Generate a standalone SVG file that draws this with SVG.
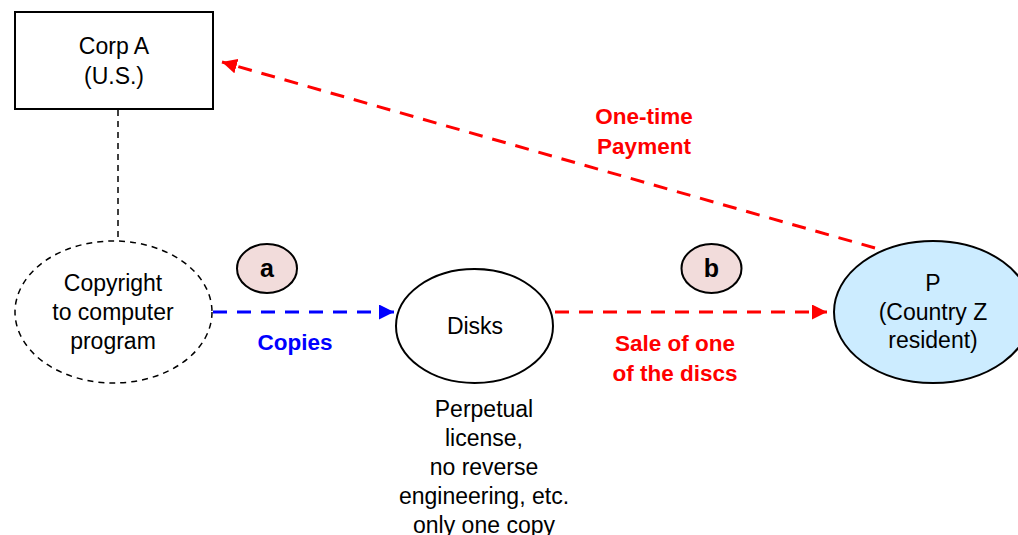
<svg xmlns="http://www.w3.org/2000/svg" width="1018" height="535" viewBox="0 0 1018 535">
<defs>
<style>
text{font-family:"Liberation Sans",Arial,sans-serif;font-size:23px;fill:#000;text-anchor:middle}
.lbl{font-weight:bold;font-size:22.5px}
.red{fill:#FF0000}
.blue{fill:#0000FF}
.badge{fill:#F2DCDB;stroke:#000;stroke-width:2}
.badgetxt{font-weight:bold;font-size:25px}
.node{stroke:#000;stroke-width:2}
.thindash{fill:none;stroke:#000;stroke-width:1.5;stroke-dasharray:6 5}
.redline{fill:none;stroke:#FF0000;stroke-width:3;stroke-dasharray:14 10}
.blueline{fill:none;stroke:#0000FF;stroke-width:3;stroke-dasharray:14 10}
</style>
<marker id="ahRed" viewBox="0 0 10 10" refX="10" refY="5" markerWidth="5" markerHeight="5" markerUnits="strokeWidth" orient="auto">
<path d="M0,0 L10,5 L0,10 z" fill="#FF0000"/>
</marker>
<marker id="ahBlue" viewBox="0 0 10 10" refX="10" refY="5" markerWidth="5" markerHeight="5" markerUnits="strokeWidth" orient="auto">
<path d="M0,0 L10,5 L0,10 z" fill="#0000FF"/>
</marker>
</defs>
<rect width="1018" height="535" fill="#fff"/>
<g id="connectors">
<line class="thindash" x1="118" y1="110" x2="118" y2="241"/>
<line class="blueline" x1="213" y1="312" x2="394" y2="312" marker-end="url(#ahBlue)"/>
<line class="redline" x1="555" y1="312" x2="827" y2="312" marker-end="url(#ahRed)"/>
<line class="redline" x1="875" y1="248" x2="222" y2="62" marker-end="url(#ahRed)"/>
</g>
<g id="corpA">
<rect class="node" x="15" y="12" width="198" height="97" fill="#fff"/>
<text x="114" y="54">Corp A</text>
<text x="114" y="84">(U.S.)</text>
</g>
<g id="copyright">
<ellipse class="thindash" cx="113.5" cy="312" rx="98.5" ry="71"/>
<text x="113" y="291">Copyright</text>
<text x="113" y="320">to computer</text>
<text x="113" y="349">program</text>
</g>
<g id="disks">
<ellipse class="node" cx="474.5" cy="326" rx="78.5" ry="57" fill="#fff"/>
<text x="475" y="334">Disks</text>
</g>
<g id="disksNote">
<text x="484" y="417">Perpetual</text>
<text x="484" y="446">license,</text>
<text x="484" y="475">no reverse</text>
<text x="484" y="504">engineering, etc.</text>
<text x="484" y="533">only one copy</text>
</g>
<g id="P">
<ellipse class="node" cx="933" cy="312" rx="99" ry="71" fill="#CCECFF"/>
<text x="933" y="291">P</text>
<text x="933" y="320">(Country Z</text>
<text x="933" y="348">resident)</text>
</g>
<g id="badgeA">
<ellipse class="badge" cx="267" cy="268.5" rx="30" ry="24.5"/>
<text class="badgetxt" x="267" y="277">a</text>
</g>
<g id="badgeB">
<ellipse class="badge" cx="711.5" cy="268.5" rx="30" ry="24.5"/>
<text class="badgetxt" x="711.5" y="277">b</text>
</g>
<g id="labels">
<text class="lbl blue" x="295" y="350">Copies</text>
<text class="lbl red" x="675" y="351">Sale of one</text>
<text class="lbl red" x="675" y="381">of the discs</text>
<text class="lbl red" x="644" y="124">One-time</text>
<text class="lbl red" x="644" y="154">Payment</text>
</g>
</svg>
